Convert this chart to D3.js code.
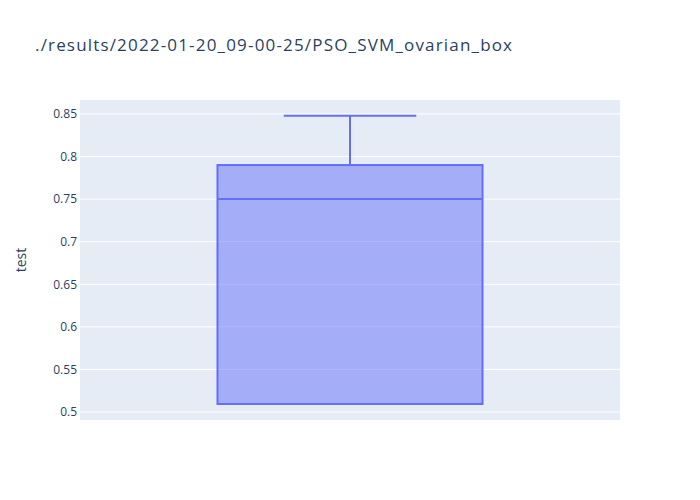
<!DOCTYPE html>
<html><head><meta charset="utf-8">
<script src="https://cdn.jsdelivr.net/npm/d3@7"></script>
<style>body{margin:0;background:#fff;} text{font-family:"Open Sans",verdana,arial,sans-serif;}</style>
</head><body>
<svg id="c" width="700" height="500"></svg>
<script>
const title = "./results/2022-01-20_09-00-25/PSO_SVM_ovarian_box";
const yTitle = "test";
const categories = [""];
const lowerFence = [0.5094];
const q1 = [0.5094];
const median = [0.75];
const q3 = [0.79];
const upperFence = [0.848];
const yTicks = [0.5, 0.55, 0.6, 0.65, 0.7, 0.75, 0.8, 0.85];

const W = 700, H = 500, m = {l:80, r:80, t:100, b:80};
const svg = d3.select("#c");
svg.append("rect").attr("width", W).attr("height", H).attr("fill", "#fff");
const pw = W - m.l - m.r, ph = H - m.t - m.b;
const g = svg.append("g").attr("transform", `translate(${m.l},${m.t})`);
g.append("rect").attr("width", pw).attr("height", ph).attr("fill", "#e5ecf6");

const y = d3.scaleLinear().domain([0.4906, 0.8664]).range([ph, 0]);
const x = d3.scaleLinear().domain([-0.5, categories.length - 0.5]).range([0, pw]);

const yAxis = d3.axisLeft(y).tickValues(yTicks).tickSize(0).tickPadding(3)
  .tickFormat(d => d3.format("")(+d.toFixed(2)));
const ya = g.append("g").call(yAxis);
ya.select(".domain").remove();
ya.selectAll("text").attr("fill", "#2a3f5f").style("font-size", "12px");
g.append("g").selectAll("line").data(yTicks).join("line")
  .attr("x1", 0).attr("x2", pw).attr("y1", d => y(d)).attr("y2", d => y(d))
  .attr("stroke", "#fff").attr("stroke-width", 1);

const color = "#636efa";
const hw = 0.2454, cw = hw / 2;
categories.forEach((c, i) => {
  const bg = g.append("g");
  bg.append("rect")
    .attr("x", x(i - hw)).attr("width", x(i + hw) - x(i - hw))
    .attr("y", y(q3[i])).attr("height", y(q1[i]) - y(q3[i]))
    .attr("fill", color).attr("fill-opacity", 0.5)
    .attr("stroke", color).attr("stroke-width", 2);
  bg.append("line").attr("x1", x(i - hw)).attr("x2", x(i + hw))
    .attr("y1", y(median[i])).attr("y2", y(median[i]))
    .attr("stroke", color).attr("stroke-width", 2);
  bg.append("line").attr("x1", x(i)).attr("x2", x(i))
    .attr("y1", y(q3[i])).attr("y2", y(upperFence[i]))
    .attr("stroke", color).attr("stroke-width", 2);
  bg.append("line").attr("x1", x(i - cw)).attr("x2", x(i + cw))
    .attr("y1", y(upperFence[i])).attr("y2", y(upperFence[i]))
    .attr("stroke", color).attr("stroke-width", 2);
  if (lowerFence[i] < q1[i]) {
    bg.append("line").attr("x1", x(i)).attr("x2", x(i))
      .attr("y1", y(q1[i])).attr("y2", y(lowerFence[i]))
      .attr("stroke", color).attr("stroke-width", 2);
    bg.append("line").attr("x1", x(i - cw)).attr("x2", x(i + cw))
      .attr("y1", y(lowerFence[i])).attr("y2", y(lowerFence[i]))
      .attr("stroke", color).attr("stroke-width", 2);
  }
});

svg.append("text").attr("x", 35).attr("y", 51)
  .attr("textLength", 477).attr("lengthAdjust", "spacing")
  .attr("fill", "#2a3f5f").style("font-size", "17px").text(title);
svg.append("text").attr("transform", `translate(26,${m.t + ph/2}) rotate(-90)`)
  .attr("text-anchor", "middle").attr("fill", "#2a3f5f").style("font-size", "14px").text(yTitle);
</script>
</body></html>
